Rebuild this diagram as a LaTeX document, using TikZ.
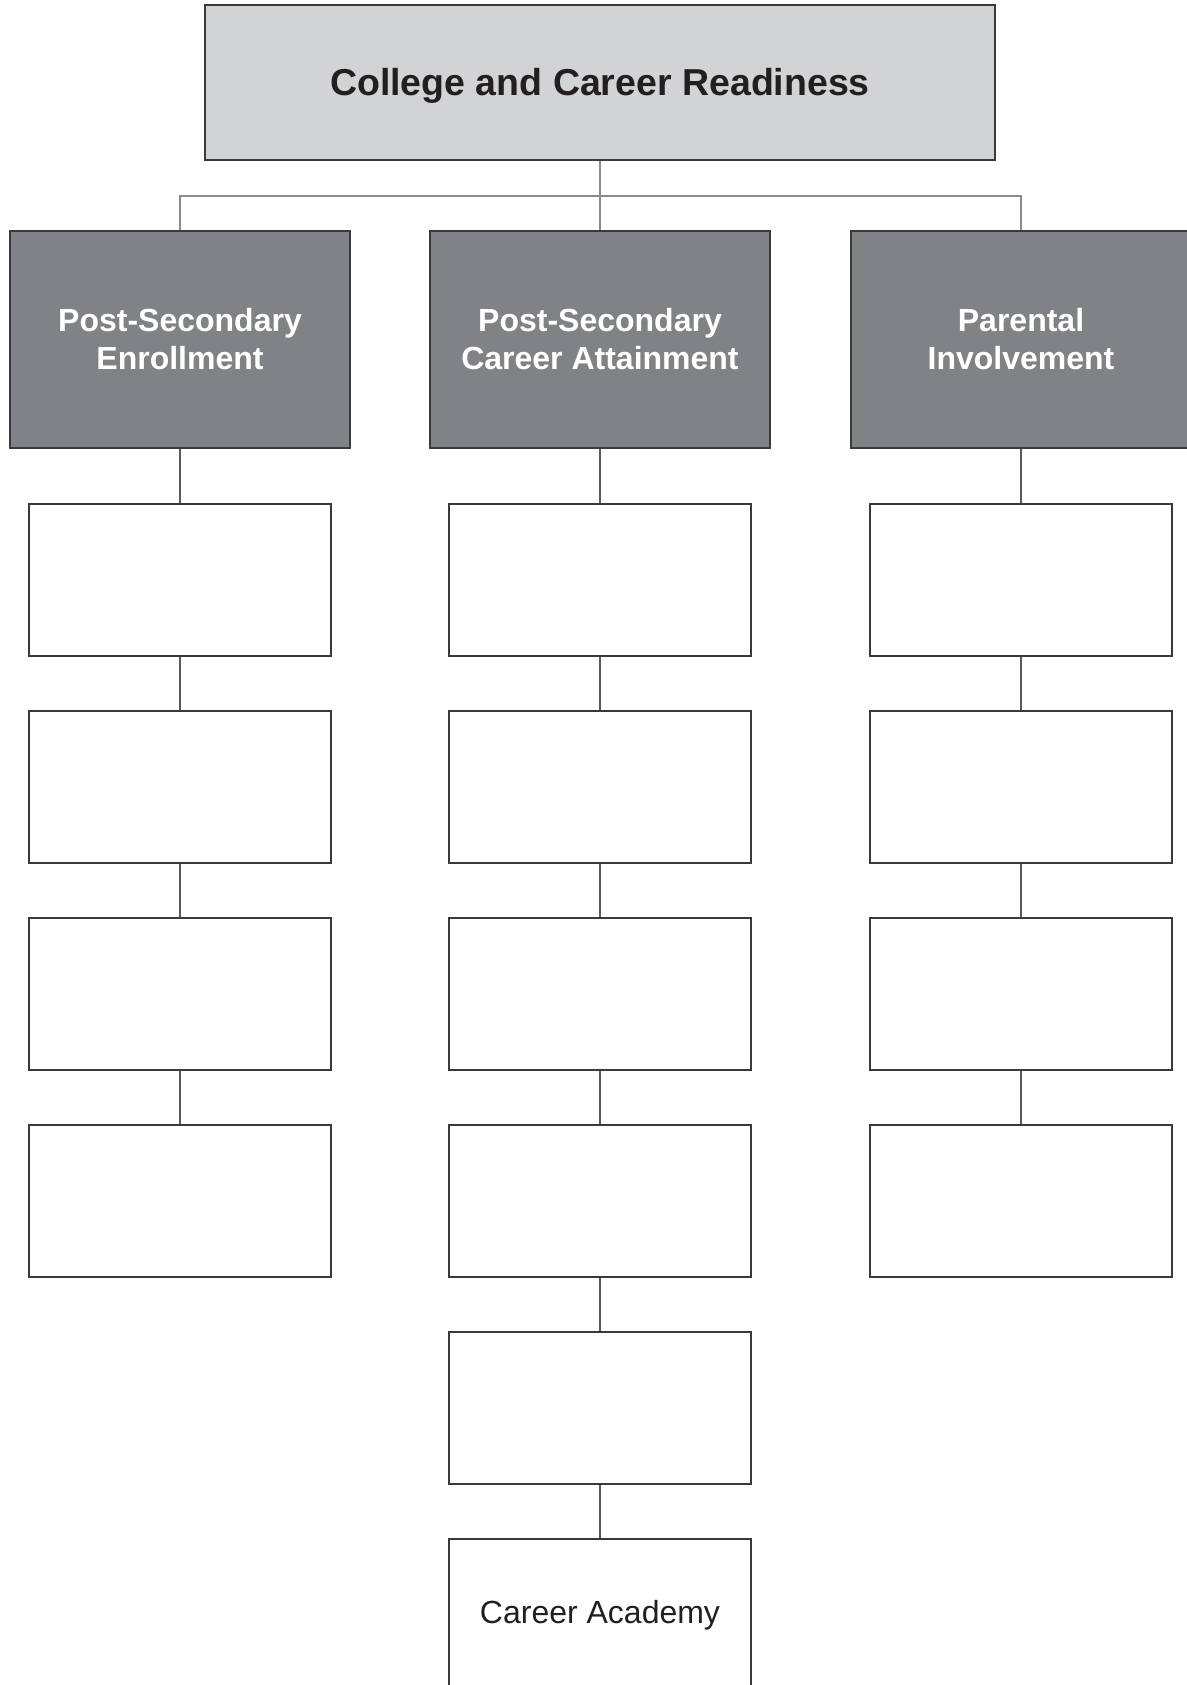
\documentclass[tikz,border=0pt]{standalone}
\usepackage{fontspec}
\setmainfont{Liberation Sans}
\definecolor{topfill}{HTML}{D1D3D4}
\definecolor{darkfill}{HTML}{808285}
\definecolor{ink}{HTML}{231F20}
\definecolor{edge}{HTML}{3A3A3C}
\definecolor{busline}{HTML}{8A8B8D}
\definecolor{linkline}{HTML}{58595B}
\begin{document}
\begin{tikzpicture}[x=1pt,y=-1pt,
  topbox/.style={draw=edge,line width=1.3pt,fill=topfill,minimum width=790pt,minimum height=155pt,inner sep=0pt,
    font=\fontsize{37.5}{44}\selectfont\bfseries,text=ink},
  catbox/.style={draw=edge,line width=1.3pt,fill=darkfill,minimum width=340pt,minimum height=217pt,inner sep=0pt,
    font=\fontsize{32}{38}\selectfont\bfseries,text=white,align=center},
  itembox/.style={draw=edge,line width=1.3pt,fill=white,minimum width=302pt,minimum height=152pt,inner sep=0pt,
    font=\fontsize{32}{38}\selectfont,text=ink,align=center},
  bus/.style={draw=busline,line width=2pt},
  link/.style={draw=linkline,line width=2pt}]
\useasboundingbox (0,0) rectangle (1186,1685);
\fill[white] (0,0) rectangle (1186,1685);
\coordinate (bus) at (600,196);
\coordinate (busL) at (180,196);
\coordinate (busR) at (1021,196);
\node[topbox] (top) at (600,82.5) {};
\node[font=\fontsize{37.5}{44}\selectfont\bfseries,text=ink,inner sep=0pt] (title) at (600,85.5) {College and Career Readiness};
\node[catbox] (c1) at (180,339.5) {Post-Secondary\\Enrollment};
\node[catbox] (c2) at (600,339.5) {Post-Secondary\\Career Attainment};
\node[catbox] (c3) at (1021,339.5) {Parental\\Involvement};
\draw[bus] (top.south) -- (bus);
\draw[bus] (c1.north) -- (busL) -- (busR) -- (c3.north);
\draw[bus] (bus) -- (c2.north);
% column 1
\foreach \k in {1,...,4} {
  \node[itembox] (a\k) at (180,{580+207*(\k-1)}) {};
}
% column 2
\foreach \k in {1,...,5} {
  \node[itembox] (b\k) at (600,{580+207*(\k-1)}) {};
}
\node[itembox] (b6) at (600,1615) {Career Academy};
% column 3
\foreach \k in {1,...,4} {
  \node[itembox] (e\k) at (1021,{580+207*(\k-1)}) {};
}
\draw[link] (c1.south) -- (a1.north);
\draw[link] (a1.south) -- (a2.north);
\draw[link] (a2.south) -- (a3.north);
\draw[link] (a3.south) -- (a4.north);
\draw[link] (c2.south) -- (b1.north);
\draw[link] (b1.south) -- (b2.north);
\draw[link] (b2.south) -- (b3.north);
\draw[link] (b3.south) -- (b4.north);
\draw[link] (b4.south) -- (b5.north);
\draw[link] (b5.south) -- (b6.north);
\draw[link] (c3.south) -- (e1.north);
\draw[link] (e1.south) -- (e2.north);
\draw[link] (e2.south) -- (e3.north);
\draw[link] (e3.south) -- (e4.north);
\end{tikzpicture}
\end{document}
